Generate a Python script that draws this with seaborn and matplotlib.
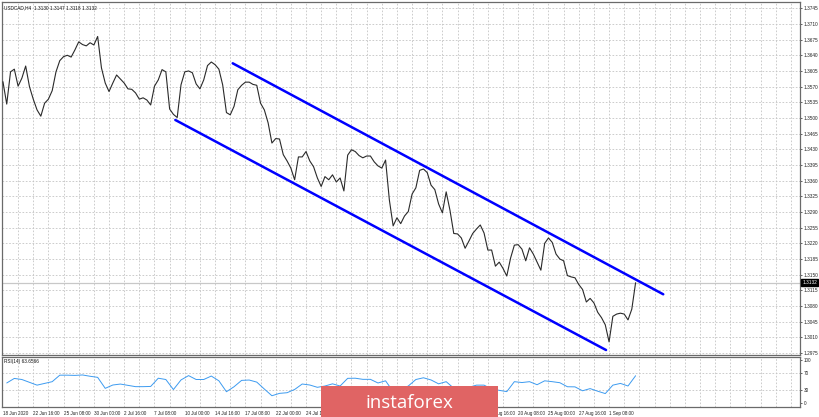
import numpy as np
import pandas as pd
import matplotlib
matplotlib.use("Agg")
import matplotlib.pyplot as plt
from matplotlib.patches import Rectangle
import seaborn as sns

# USDCAD H4 closes, one value every 2 bars (bar 0 = 18 Jun 2020 00:00)
closes = [
    1.3581, 1.3531, 1.3603, 1.3609, 1.3571, 1.3589, 1.3616, 1.3570,
    1.3542, 1.3518, 1.3504, 1.3533, 1.3542, 1.3561, 1.3603, 1.3628,
    1.3637, 1.3640, 1.3636, 1.3652, 1.3670, 1.3664, 1.3661, 1.3668,
    1.3663, 1.3682, 1.3612, 1.3578, 1.3559, 1.3578, 1.3596, 1.3587,
    1.3578, 1.3565, 1.3564, 1.3556, 1.3542, 1.3545, 1.3540, 1.3529,
    1.3571, 1.3585, 1.3608, 1.3603, 1.3520, 1.3508, 1.3501, 1.3574,
    1.3603, 1.3605, 1.3601, 1.3576, 1.3565, 1.3585, 1.3617, 1.3625,
    1.3619, 1.3609, 1.3574, 1.3512, 1.3507, 1.3526, 1.3563, 1.3573,
    1.3580, 1.3580, 1.3575, 1.3573, 1.3533, 1.3518, 1.3489, 1.3444,
    1.3454, 1.3453, 1.3418, 1.3404, 1.3388, 1.3362, 1.3413, 1.3413,
    1.3425, 1.3404, 1.3391, 1.3366, 1.3347, 1.3369, 1.3362, 1.3373,
    1.3357, 1.3366, 1.3337, 1.3417, 1.3429, 1.3425, 1.3416, 1.3411,
    1.3415, 1.3415, 1.3402, 1.3393, 1.3388, 1.3406, 1.3317, 1.3259,
    1.3277, 1.3264, 1.3281, 1.3291, 1.3330, 1.3344, 1.3383, 1.3386,
    1.3378, 1.3350, 1.3340, 1.3308, 1.3288, 1.3335, 1.3294, 1.3242,
    1.3241, 1.3232, 1.3209, 1.3225, 1.3242, 1.3252, 1.3261, 1.3243,
    1.3205, 1.3205, 1.3169, 1.3178, 1.3164, 1.3147, 1.3187, 1.3216,
    1.3217, 1.3207, 1.3181, 1.3210, 1.3196, 1.3178, 1.3160, 1.3220,
    1.3232, 1.3222, 1.3196, 1.3185, 1.3181, 1.3148, 1.3145, 1.3143,
    1.3128, 1.3117, 1.3089, 1.3097, 1.3087, 1.3066, 1.3054, 1.3038,
    1.3000, 1.3057, 1.3062, 1.3064, 1.3062, 1.3049, 1.3073, 1.3132,
]
close_step = 2

# RSI(14), one value every 4 bars starting at bar 2
rsi_values = [
    47, 57.5, 55, 48.5, 42, 46, 50, 65, 65, 64.5, 65.5, 62.5,
    60, 34.6, 42.3, 44.5, 41.5, 38.5, 38.5, 39, 58, 55, 31.8, 54,
    64, 55, 55, 63, 52, 26.8, 38.3, 53, 53.8, 49, 33, 17.5,
    23, 24.5, 32, 44.6, 42.3, 37, 40, 45, 40, 57.7, 58, 55.4,
    55.4, 47, 52, 27, 32, 40, 55, 59, 54, 45, 50, 35,
    33, 37, 42, 42, 33, 30, 27, 50, 48, 50, 43, 52,
    50, 47.6, 38.3, 38, 29, 34, 28, 22.5, 42, 46, 40, 63.66,
]
rsi_first_bar = 2
rsi_step = 4

date_labels = [
    "18 Jun 2020", "22 Jun 16:00", "25 Jun 08:00", "30 Jun 00:00",
    "2 Jul 16:00", "7 Jul 08:00", "10 Jul 00:00", "14 Jul 16:00",
    "17 Jul 08:00", "22 Jul 00:00", "24 Jul 16:00", "29 Jul 08:00",
    "3 Aug 00:00", "5 Aug 16:00", "10 Aug 08:00", "13 Aug 00:00",
    "17 Aug 16:00", "20 Aug 08:00", "25 Aug 00:00", "27 Aug 16:00",
    "1 Sep 08:00",
]
label_step = 16

price_ticks = [
    1.2975, 1.3010, 1.3045, 1.3080, 1.3115, 1.3150, 1.3185, 1.3220,
    1.3255, 1.3290, 1.3325, 1.3360, 1.3395, 1.3430, 1.3465, 1.3500,
    1.3535, 1.3570, 1.3605, 1.3640, 1.3675, 1.3710, 1.3745,
]
rsi_ticks = [0, 30, 70, 100]

# channel anchors (bar, price)
upper_bars = [121.3, 348.6]
upper_prices = [1.36221, 1.31062]
lower_bars = [91.0, 318.4]
lower_prices = [1.34955, 1.29817]

last_price = 1.3132
header = "USDCAD,H4  1.3130 1.3147 1.3118 1.3132"
rsi_header = "RSI(14) 63.6566"

price_df = pd.DataFrame({"bar": np.arange(len(closes)) * close_step, "close": closes})
rsi_df = pd.DataFrame({"bar": rsi_first_bar + np.arange(len(rsi_values)) * rsi_step,
                       "rsi": rsi_values})

sns.set_theme(style="white")
plt.rcParams["font.family"] = ["Liberation Sans", "DejaVu Sans"]

fig = plt.figure(figsize=(8.2, 4.17), dpi=100)
fig.patch.set_facecolor("white")
ax = fig.add_axes([2 / 820, 62 / 417, 798 / 820, 353 / 417])
ax2 = fig.add_axes([2 / 820, 10 / 417, 798 / 820, 50 / 417])

xmax = 420.8
grid_kw = dict(color="#c4c4c4", lw=0.6, ls=(0, (2, 2)), zorder=0)
for a in (ax, ax2):
    a.set_xlim(-0.5, xmax)
    for b in range(8, int(xmax), 8):
        a.axvline(b, **grid_kw)
    for s in a.spines.values():
        s.set_color("#6a6a6a")
        s.set_linewidth(0.9)
for p in price_ticks:
    ax.axhline(p, **grid_kw)
for r in (30, 70):
    ax2.axhline(r, **grid_kw)

# price panel
ax.axhline(last_price, color="#c8c8c8", lw=0.9, zorder=1)
sns.lineplot(data=price_df, x="bar", y="close", ax=ax, color="#2a2a2a",
             linewidth=0.8, zorder=3)
sns.lineplot(x=upper_bars, y=upper_prices, ax=ax, color="#0000ff", linewidth=1.8, zorder=4)
sns.lineplot(x=lower_bars, y=lower_prices, ax=ax, color="#0000ff", linewidth=1.8, zorder=4)
ax.set_ylim(1.29706, 1.37590)
ax.yaxis.tick_right()
ax.set_yticks(price_ticks, [f"{p:.4f}" for p in price_ticks])
ax.set_xticks([])
ax.tick_params(axis="y", labelsize=3.4, length=1.5, width=0.5, pad=1.2,
               colors="#222222", direction="out")
ax.set_xlabel("")
ax.set_ylabel("")
ax.text(0.003, 0.992, header, transform=ax.transAxes, fontsize=3.4,
        ha="left", va="top", color="#111111")
ax.text(1.003, last_price, f"{last_price:.4f}", transform=ax.get_yaxis_transform(),
        fontsize=3.4, color="white", ha="left", va="center", zorder=6,
        bbox=dict(boxstyle="square,pad=0.25", fc="black", ec="black"),
        clip_on=False)

# RSI panel
sns.lineplot(data=rsi_df, x="bar", y="rsi", ax=ax2, color="#3d9bf0",
             linewidth=0.7, zorder=3)
ax2.set_ylim(-8.5, 107)
ax2.yaxis.tick_right()
ax2.set_yticks(rsi_ticks, [str(t) for t in rsi_ticks])
label_pos = np.arange(len(date_labels)) * label_step
ax2.set_xticks(label_pos, date_labels, ha="left")
ax2.tick_params(axis="both", labelsize=3.3, length=1.5, width=0.5, pad=1.2,
                colors="#222222", direction="out")
ax2.set_xlabel("")
ax2.set_ylabel("")
ax2.text(0.003, 0.96, rsi_header, transform=ax2.transAxes, fontsize=3.4,
         ha="left", va="top", color="#111111")

# watermark box (covers part of the RSI panel and the date labels)
box_x0, box_x1 = 321, 498
fig.patches.append(Rectangle((box_x0 / 820, 0), (box_x1 - box_x0) / 820, 31 / 417,
                             transform=fig.transFigure, facecolor="#e06464",
                             edgecolor="none", zorder=10))
fig.text(409.5 / 820, 14 / 417, "instaforex", color="white", fontsize=13.5,
         ha="center", va="center", zorder=11, family=["Open Sans", "DejaVu Sans"])

# labels fully hidden under the watermark box are not shown
fig.canvas.draw()
for lbl in ax2.get_xticklabels():
    bb = lbl.get_window_extent()
    if bb.x0 >= box_x0 and bb.x1 <= box_x1:
        lbl.set_visible(False)

fig.savefig("out.png", dpi=100)
